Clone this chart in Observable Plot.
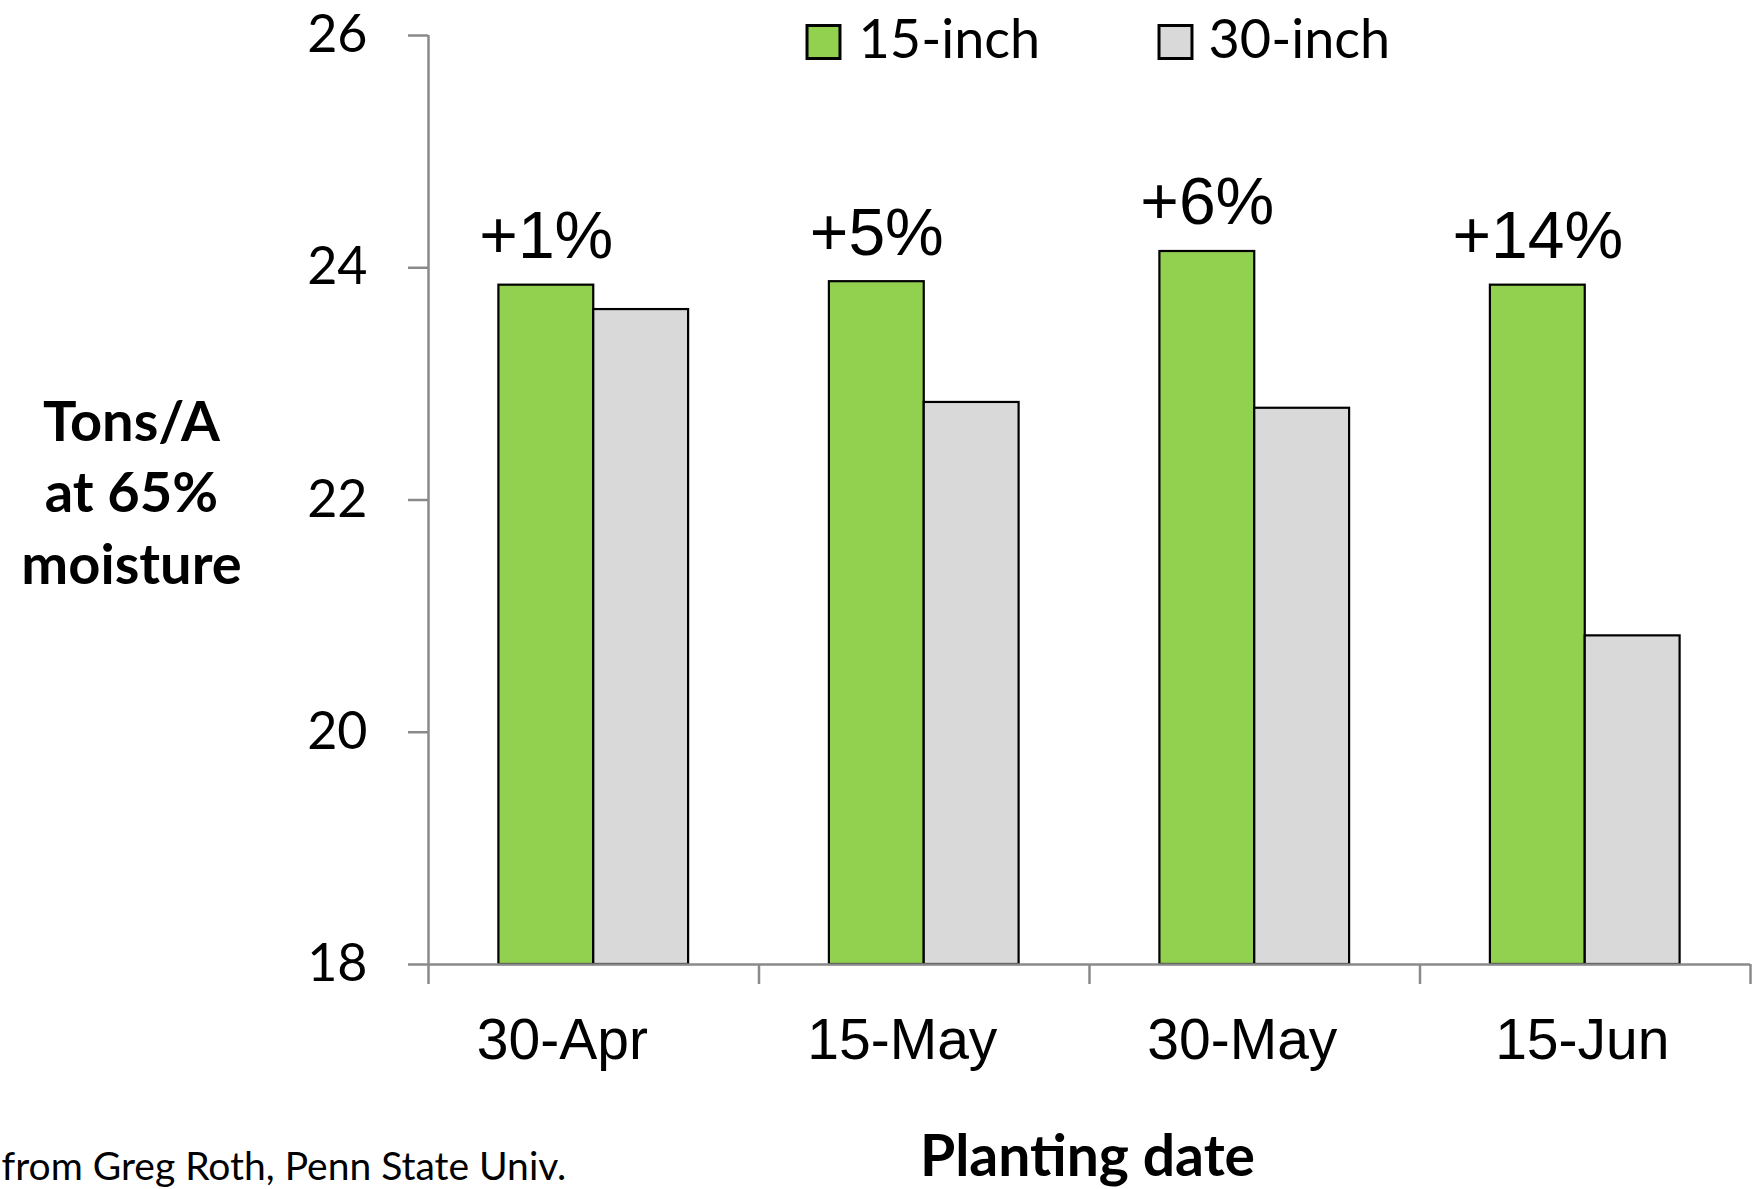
<!DOCTYPE html>
<html>
<head>
<meta charset="utf-8">
<script src="https://cdn.jsdelivr.net/npm/d3@7"></script>
<script src="https://cdn.jsdelivr.net/npm/@observablehq/plot@0.6"></script>
<style>
  html, body { margin: 0; padding: 0; background: #fff; }
  #chart { width: 1754px; height: 1189px; overflow: hidden; }
  svg { display: block; }
</style>
</head>
<body>
<div id="chart"></div>
<script>
// ---- data ----
const dates = ["30-Apr", "15-May", "30-May", "15-Jun"];
const seriesNames = ["15-inch", "30-inch"];
const yield15 = [23.85, 23.88, 24.14, 23.85];
const yield30 = [23.64, 22.84, 22.79, 20.83];
const gainLabels = ["+1%", "+5%", "+6%", "+14%"];
const yTicks = [18, 20, 22, 24, 26];
const seriesColors = ["#92D050", "#D9D9D9"];
const yTitle = "Tons/A\nat 65%\nmoisture";
const xTitle = "Planting date";
const sourceNote = "from Greg Roth, Penn State Univ.";

// ---- layout constants ----
const W = 0.287;               // bar width in category units
const labelSpread = 1.0287;    // category labels sit slightly off the band centres in the original
const labelShift = -0.095;
const axisGray = "#8a8a8a";
const yMin = yTicks[0], yMax = yTicks[yTicks.length - 1];

const rows = [];
dates.forEach((d, i) => {
  rows.push({date: d, i, s: 0, value: yield15[i]});
  rows.push({date: d, i, s: 1, value: yield30[i]});
});
const gains = dates.map((d, i) => ({i, v: yield15[i], label: gainLabels[i]}));
const boundaries = d3.range(dates.length + 1).map(k => k - 0.5);
const arial = "'Liberation Sans', Arial, sans-serif";

const chart = Plot.plot({
  width: 1754,
  height: 1189,
  marginLeft: 428,
  marginRight: 4,
  marginTop: 35,
  marginBottom: 225,
  style: {fontFamily: "Lato, sans-serif", background: "#fff", color: "#000", overflow: "hidden"},
  x: {type: "linear", domain: [-0.5, dates.length - 0.5], axis: null},
  y: {domain: [yMin, yMax], axis: null},
  marks: [
    // bars
    Plot.rect(rows, {
      x1: d => d.i + (d.s === 0 ? -W : 0),
      x2: d => d.i + (d.s === 0 ? 0 : W),
      y1: () => yMin,
      y2: "value",
      fill: d => seriesColors[d.s],
      stroke: "#000",
      strokeWidth: 2.2
    }),
    // axis lines
    Plot.ruleX([-0.5], {stroke: axisGray, strokeWidth: 2.5}),
    Plot.ruleY([yMin], {stroke: axisGray, strokeWidth: 2.5}),
    // y axis ticks + labels
    Plot.axisY({
      ticks: yTicks, tickSize: 20, tickPadding: 41, fontSize: 52,
      stroke: axisGray, strokeWidth: 2.5, fill: "#000", label: null,
      fontFamily: "Lato, sans-serif"
    }),
    // category boundary ticks
    Plot.axisX(boundaries, {
      tickSize: 20, tickFormat: () => "", stroke: axisGray, strokeWidth: 2.5, label: null
    }),
    // category labels
    Plot.text(d3.range(dates.length), {
      x: i => i * labelSpread + labelShift, frameAnchor: "bottom", dy: 1058 - 964,
      lineAnchor: "bottom", text: i => dates[i], fontSize: 57, fontFamily: arial, fill: "#000"
    }),
    // percent gain labels
    Plot.text(gains, {
      x: d => d.i - W / 2, y: "v", text: "label", dy: -27, lineAnchor: "bottom",
      fontSize: 66, fontFamily: arial, fill: "#000"
    }),
    // y title
    Plot.text([yTitle], {
      frameAnchor: "top-left", dx: 131 - 428, dy: 583 - 35, lineAnchor: "bottom",
      lineHeight: 1.27, textAnchor: "middle", fontSize: 56, fontWeight: "bold", fill: "#000"
    }),
    // x title
    Plot.text([xTitle], {
      frameAnchor: "top-left", dx: 1087 - 428, dy: 1175 - 35, lineAnchor: "bottom",
      textAnchor: "middle", fontSize: 57, fontWeight: "bold", fill: "#000"
    }),
    // source note
    Plot.text([sourceNote], {
      frameAnchor: "top-left", dx: 1 - 428, dy: 1179 - 35, lineAnchor: "bottom",
      textAnchor: "start", fontSize: 39, fill: "#000"
    }),
    // legend swatches
    Plot.dot([0], {
      frameAnchor: "top-left", dx: 823 - 428, dy: 41.5 - 35, symbol: "square", r: 18.6,
      fill: seriesColors[0], stroke: "#000", strokeWidth: 3
    }),
    Plot.dot([1], {
      frameAnchor: "top-left", dx: 1175 - 428, dy: 41.5 - 35, symbol: "square", r: 18.6,
      fill: seriesColors[1], stroke: "#000", strokeWidth: 3
    }),
    // legend labels
    Plot.text([seriesNames[0]], {
      frameAnchor: "top-left", dx: 858 - 428, dy: 57 - 35, lineAnchor: "bottom",
      textAnchor: "start", fontSize: 54, fill: "#000"
    }),
    Plot.text([seriesNames[1]], {
      frameAnchor: "top-left", dx: 1208 - 428, dy: 57 - 35, lineAnchor: "bottom",
      textAnchor: "start", fontSize: 54, fill: "#000"
    })
  ]
});
document.getElementById("chart").appendChild(chart);
</script>
</body>
</html>
